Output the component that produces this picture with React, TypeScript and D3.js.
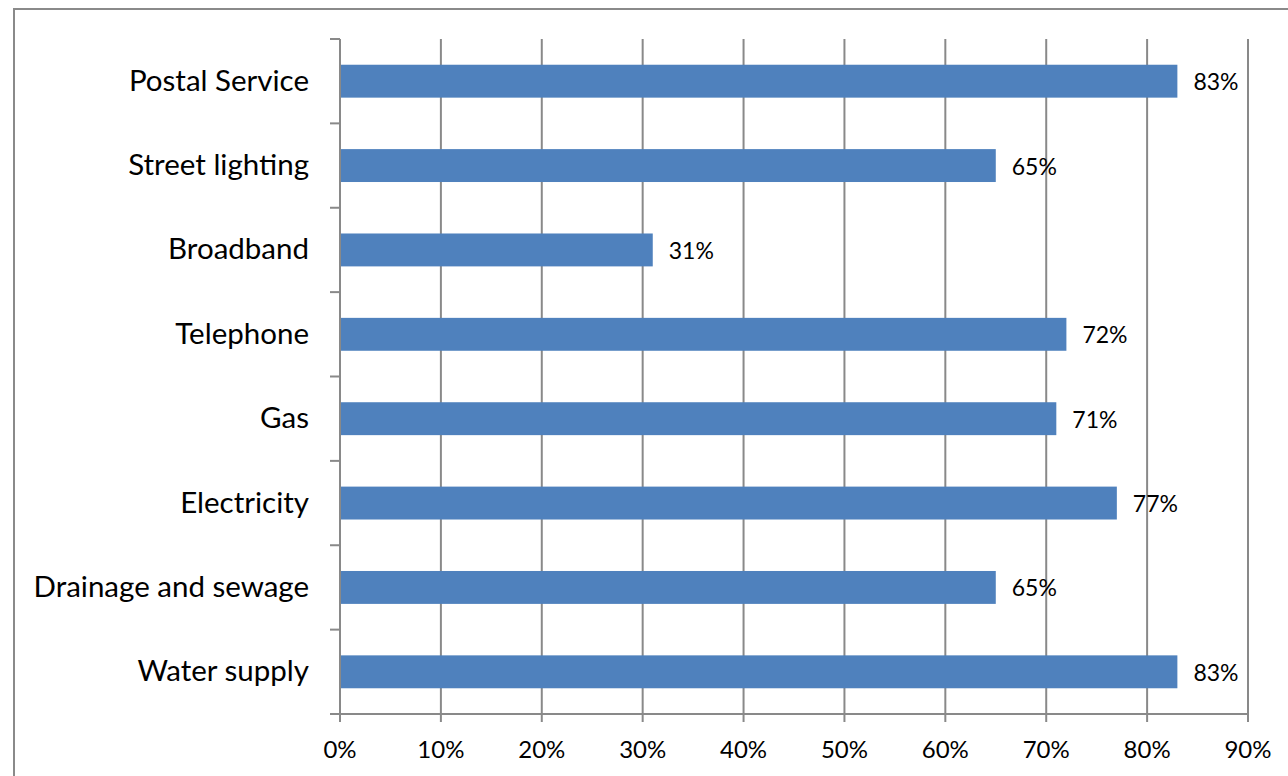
import React from "react";
import * as d3 from "d3";

const categories = [
  "Postal Service",
  "Street lighting",
  "Broadband",
  "Telephone",
  "Gas",
  "Electricity",
  "Drainage and sewage",
  "Water supply",
];
const values = [83, 65, 31, 72, 71, 77, 65, 83];
const xTicks = [0, 10, 20, 30, 40, 50, 60, 70, 80, 90];

const W = 1288;
const H = 776;
const left = 340;
const right = 1248;
const top = 39;
const bottom = 714;
const FONT = "Lato, 'Open Sans', sans-serif";

export default function App() {
  const x = d3.scaleLinear().domain([0, 90]).range([left, right]);
  const y = d3.scaleBand<string>().domain(categories).range([top, bottom]).paddingInner(0.61).paddingOuter(0.305);
  const band = d3.scaleBand<string>().domain(categories).range([top, bottom]);
  const grid = "#898989";
  return (
    <svg width={W} height={H} style={{ position: "absolute", left: 0, top: 0, background: "#fff" }}>
      <rect x={14} y={9} width={W} height={H} fill="#fff" stroke="#8a8a8a" strokeWidth={2} />
      {xTicks.slice(1).map((t) => (
        <line key={"g" + t} x1={x(t)} x2={x(t)} y1={top} y2={bottom} stroke={grid} strokeWidth={2} />
      ))}
      {categories.map((c, i) => (
        <rect key={c} x={x(0)} y={y(c)} width={x(values[i]) - x(0)} height={y.bandwidth()} fill="#4F81BD" />
      ))}
      <line x1={left} x2={left} y1={top} y2={bottom} stroke={grid} strokeWidth={2} />
      {[...categories.map((c) => band(c) as number), bottom].map((v, i) => (
        <line key={"yt" + i} x1={left - 10} x2={left} y1={v} y2={v} stroke={grid} strokeWidth={2} />
      ))}
      <line x1={left - 10} x2={right} y1={bottom} y2={bottom} stroke={grid} strokeWidth={2} />
      {xTicks.map((t) => (
        <line key={"xt" + t} x1={x(t)} x2={x(t)} y1={bottom} y2={bottom + 8} stroke={grid} strokeWidth={2} />
      ))}
      {xTicks.map((t) => (
        <text key={"xl" + t} x={x(t)} y={748} textAnchor="middle" dominantBaseline="central" fontFamily={FONT} fontSize={24} fill="#000">
          {t + "%"}
        </text>
      ))}
      {categories.map((c) => (
        <text key={"cl" + c} x={309} y={(y(c) as number) + y.bandwidth() / 2 - 2} textAnchor="end" dominantBaseline="central" fontFamily={FONT} fontSize={29.5} fill="#000">
          {c}
        </text>
      ))}
      {categories.map((c, i) => (
        <text key={"vl" + c} x={x(values[i]) + 16} y={(y(c) as number) + y.bandwidth() / 2} dominantBaseline="central" fontFamily={FONT} fontSize={23} fill="#000">
          {values[i] + "%"}
        </text>
      ))}
    </svg>
  );
}
